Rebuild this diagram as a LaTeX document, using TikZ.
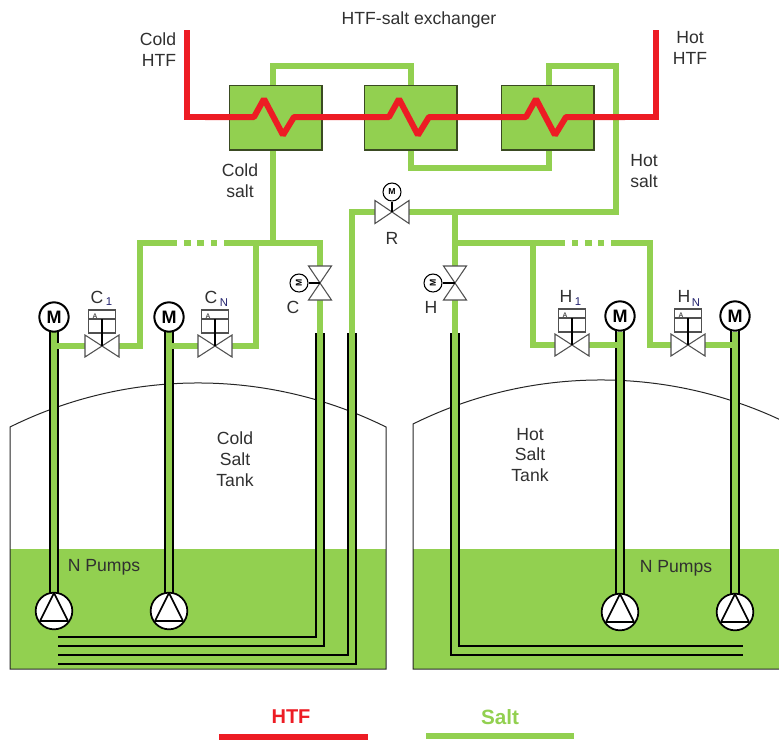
\documentclass[tikz,border=0pt]{standalone}
\usepackage{fontspec}
\setmainfont{Liberation Sans}
\definecolor{saltg}{HTML}{92D050}
\definecolor{htfr}{HTML}{ED1C24}
\definecolor{txt}{HTML}{303030}
\definecolor{edgeg}{HTML}{3A4A22}
\definecolor{grayl}{HTML}{505050}
\tikzset{
 salt/.style={draw=saltg,line width=4.5pt,miter limit=10},
 htf/.style={draw=htfr,line width=4.5pt,line join=miter},
 wall/.style={draw=black,line width=1.7pt},
 tankline/.style={draw=black!85,line width=0.75pt},
 exbox/.style={draw=edgeg,fill=saltg,line width=1pt,minimum width=69.5pt,minimum height=48.5pt,inner sep=0pt},
 motor/.style={circle,draw=black,fill=white,line width=1.5pt,minimum size=22pt,inner sep=0pt,font=\fontsize{13.5}{14}\selectfont\bfseries},
 smotor/.style={circle,draw=black,fill=white,line width=0.8pt,minimum size=13.5pt,inner sep=0pt,font=\fontsize{6.5}{7}\selectfont\bfseries},
 pumpc/.style={circle,draw=black,fill=white,line width=1.3pt,minimum size=27.5pt,inner sep=0pt},
 lab/.style={text=txt,font=\fontsize{13.2}{15.7}\selectfont,align=center,inner sep=0pt},
 sub/.style={text=txt!70!blue,font=\fontsize{8.5}{9}\selectfont,inner sep=0pt},
 vline/.style={draw=grayl,line width=0.8pt,fill=white,line join=miter},
}
% horizontal valve with solenoid actuator
\newcommand{\actvalve}[1]{%
 \draw[vline] ($(#1)+(-17,-11)$) -- ($(#1)+(17,11)$) -- ($(#1)+(17,-11)$) -- ($(#1)+(-17,11)$) -- cycle;
 \draw[vline] ($(#1)+(-13.5,-36)$) rectangle ($(#1)+(13.5,-13)$);
 \draw[grayl,line width=0.8pt] ($(#1)+(-13.5,-27)$) -- ($(#1)+(13.5,-27)$);
 \draw[black,line width=0.9pt] ($(#1)+(0,-27)$) -- (#1);
 \node[inner sep=0pt,text=grayl,font=\fontsize{5}{6}\selectfont\bfseries] (#1a) at ($(#1)+(-7,-29.5)$) {A};
}
\newcommand{\vertvalve}[1]{%
 \draw[vline] ($(#1)+(-11.5,-17)$) -- ($(#1)+(11.5,-17)$) -- ($(#1)+(-11.5,17)$) -- ($(#1)+(11.5,17)$) -- cycle;
}
\newcommand{\horvalve}[1]{%
 \draw[vline] ($(#1)+(-17,-11.5)$) -- ($(#1)+(17,11.5)$) -- ($(#1)+(17,-11.5)$) -- ($(#1)+(-17,11.5)$) -- cycle;
}
\newcommand{\pumpsym}[1]{%
 \node[pumpc] (#1) at (#1c) {};
 \draw[black,line width=1.2pt,line join=round] ($(#1c)+(0,-18)$) -- ($(#1c)+(14,10)$) -- ($(#1c)+(-14,10)$) -- cycle;
}
\usetikzlibrary{calc}
\begin{document}
\begin{tikzpicture}[x=0.75pt,y=-0.75pt]
\useasboundingbox (0,0) rectangle (779,740);
\clip (0,0) rectangle (779,740);
% tanks
\fill[saltg] (10,549) rectangle (386,669);
\draw[tankline] (10,549) -- (10,427) .. controls (128.5,368.3) and (267.5,368.3) .. (386,427) -- (386,669) -- (10,669) -- cycle;
\fill[saltg] (413,549) rectangle (800,669);
\draw[tankline] (413,669) -- (413,424) .. controls (531.5,365.3) and (670.5,365.3) .. (789,424) -- (789,669) -- cycle;
% named points
\coordinate (vc1) at (102,346);
\coordinate (vcn) at (215,346);
\coordinate (vh1) at (572,345);
\coordinate (vhn) at (688,345);
\coordinate (vc) at (320,283);
\coordinate (vh) at (455,283);
\coordinate (vr) at (392,212);
\coordinate (p1c) at (54,611);
\coordinate (p2c) at (169,611);
\coordinate (p3c) at (620,612);
\coordinate (p4c) at (735,612);
\coordinate (jc) at (273,243);
\coordinate (jh) at (455,243);
\coordinate (jhr) at (455,212);
% salt pipes
\draw[salt] (273,90) -- (273,66) -- (411,66) -- (411,90);
\draw[salt] (411,145) -- (411,168) -- (549,168) -- (549,145);
\draw[salt] (549,90) -- (549,66) -- (616,66) -- (616,212) -- ($(vr)+(17,0)$);
\draw[salt] (273,145) -- (jc);
\draw[salt] ($(vr)+(-17,0)$) -- (352,212) -- (352,660);
\draw[salt] (jhr) -- ($(vh)+(0,-17)$);
\draw[salt] ($(vh)+(0,17)$) -- (455,650);
% cold header
\draw[salt] ($(vc1)+(17,0)$) -- (140,346) -- (140,243) -- (177,243);
\draw[salt] (184,243) -- (191,243) (197,243) -- (204,243) (211,243) -- (217,243);
\draw[salt] (224,243) -- (320,243) -- ($(vc)+(0,-17)$);
\draw[salt] ($(vc)+(0,17)$) -- (320,650);
\draw[salt] ($(vcn)+(17,0)$) -- (256,346) -- (256,243);
\draw[salt] ($(vc1)+(-17,0)$) -- (60,346);
\draw[salt] ($(vcn)+(-17,0)$) -- (175,346);
% hot header
\draw[salt] (jh) -- (565,243);
\draw[salt] (572,243) -- (578,243) (585,243) -- (592,243) (598,243) -- (604,243);
\draw[salt] (611,243) -- (650,243) -- (650,345) -- ($(vhn)+(-17,0)$);
\draw[salt] (533,243) -- (533,345) -- ($(vh1)+(-17,0)$);
\draw[salt] ($(vh1)+(17,0)$) -- (614,345);
\draw[salt] ($(vhn)+(17,0)$) -- (729,345);
% pump risers
\draw[salt] (54,332) -- (54,595);
\draw[salt] (169,332) -- (169,595);
\draw[salt] (620,332) -- (620,595);
\draw[salt] (735,332) -- (735,595);
% pipe walls
\foreach \xx in {49.7,58.3,164.7,173.3,615.7,624.3,730.7,739.3}
  \draw[wall] (\xx,330) -- (\xx,595);
\draw[salt,line width=5pt] (54,346) -- (64,346);
\draw[salt,line width=5pt] (169,346) -- (179,346);
\draw[salt,line width=5pt] (610,345) -- (620,345);
\draw[salt,line width=5pt] (725,345) -- (735,345);
\draw[wall,line width=1.6pt] (315.7,333) -- (315.7,637) -- (58,637);
\draw[wall,line width=1.6pt] (324.3,333) -- (324.3,646) -- (58,646);
\draw[wall,line width=1.6pt] (347.7,333) -- (347.7,655) -- (58,655);
\draw[wall,line width=1.6pt] (356.3,333) -- (356.3,664) -- (58,664);
\draw[wall,line width=1.6pt] (450.7,333) -- (450.7,655) -- (743,655);
\draw[wall,line width=1.6pt] (459.3,333) -- (459.3,646) -- (743,646);
% exchangers
\node[exbox] (ex1) at (275.5,117.5) {};
\node[exbox] (ex2) at (410.5,117.5) {};
\node[exbox] (ex3) at (547.5,117.5) {};
% HTF line
\draw[htf] (187,30) -- (187,117) -- (210,117);
\draw[htf] (620,117) -- (656,117) -- (656,30);
\draw[htf,line join=bevel] (205,117) -- (254,117) -- (264,99) -- (283,135) -- (294,117)
  -- (389,117) -- (399,99) -- (418,135) -- (429,117)
  -- (526,117) -- (536,99) -- (555,135) -- (566,117) -- (625,117);
% valves
\actvalve{vc1}
\actvalve{vcn}
\actvalve{vh1}
\actvalve{vhn}
\vertvalve{vc}
\vertvalve{vh}
\horvalve{vr}
% motors
\node[motor] (m1) at (54,317) {M};
\node[motor] (m2) at (169,317) {M};
\node[motor] (m3) at (620,316) {M};
\node[motor] (m4) at (735,316) {M};
\node[smotor] (mc) at (299,283) {\rotatebox{90}{M}};
\node[smotor] (mh) at (433,283) {\rotatebox{90}{M}};
\node[smotor] (mr) at (392,192) {M};
\draw[black,line width=0.9pt] (mc) -- (vc);
\draw[black,line width=0.9pt] (mh) -- (vh);
\draw[black,line width=0.9pt] (mr) -- (vr);
% pumps
\pumpsym{p1}
\pumpsym{p2}
\pumpsym{p3}
\pumpsym{p4}
% text
\node[lab] (t0) at (419,20) {HTF-salt exchanger};
\node[lab,align=right] (t1) at (158,50) {Cold\\HTF};
\node[lab] (t2) at (690,48) {Hot\\HTF};
\node[lab] (t3) at (240,181) {Cold\\salt};
\node[lab] (t4) at (644,171) {Hot\\salt};
\node[lab] (t5) at (235,459.5) {Cold\\Salt\\Tank};
\node[lab] (t6) at (530,455) {Hot\\Salt\\Tank};
\node[lab] (t7) at (104,567) {N Pumps};
\node[lab] (t8) at (676,568) {N Pumps};
\node[lab] (t9) at (392,238) {R};
\node[lab] (t10) at (293,307) {C};
\node[lab] (t11) at (431,307) {H};
\node[lab] (t12) at (97,297) {C};
\node[sub] (t13) at (109,302) {1};
\node[lab] (t14) at (211,297) {C};
\node[sub] (t15) at (224,303) {N};
\node[lab] (t16) at (566,296) {H};
\node[sub] (t17) at (578,302) {1};
\node[lab] (t18) at (684,296) {H};
\node[sub] (t19) at (696,303) {N};
% legend
\node[inner sep=0pt,text=htfr,font=\fontsize{15}{17}\selectfont\bfseries] (lh) at (291,717) {HTF};
\node[inner sep=0pt,text=saltg,font=\fontsize{15.5}{17}\selectfont\bfseries] (ls) at (500,717) {Salt};
\coordinate (lh1) at (219,737);
\coordinate (lh2) at (368,737);
\coordinate (ls1) at (426,736);
\coordinate (ls2) at (574,736);
\draw[htf] (lh1) -- (lh2);
\draw[salt] (ls1) -- (ls2);
\end{tikzpicture}
\end{document}
